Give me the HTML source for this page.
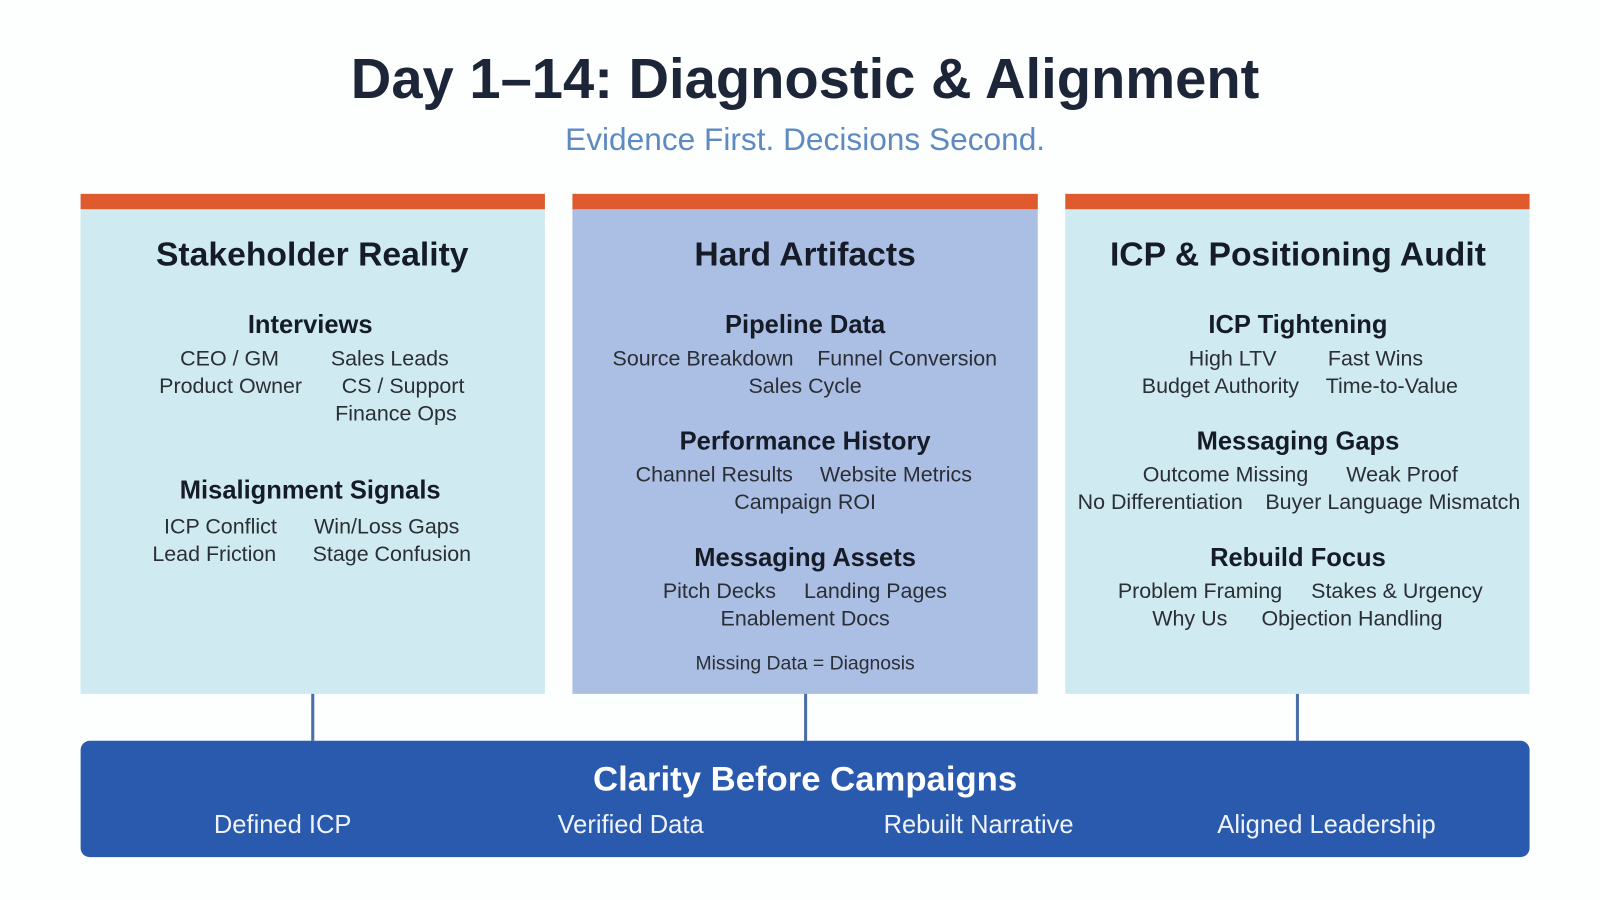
<!DOCTYPE html>
<html><head><meta charset="utf-8"><style>
html,body{margin:0;padding:0;background:#fff;width:1600px;height:900px;overflow:hidden}
#c{position:absolute;left:0;top:0;width:1568px;height:882px;transform:scale(1.0204);transform-origin:0 0;font-family:"Liberation Sans",sans-serif;background:#fdfefe}
.t{position:absolute;transform:translate(-50%,-50%);white-space:nowrap}
.h{font-weight:bold;font-size:33px;color:#151c28}
.s{font-weight:bold;font-size:25px;color:#151c28}
.i{font-size:21px;color:#2a2f36}
.b{position:absolute}
.w{color:#eef3fb;font-size:25px}
</style></head><body><div id="c">
<div class="t" style="left:789px;top:77px;font-size:55px;font-weight:bold;color:#1c2638">Day 1–14: Diagnostic &amp; Alignment</div>
<div class="t" style="left:789px;top:137px;font-size:31px;color:#5f8ac0">Evidence First. Decisions Second.</div>

<div class="b" style="left:79px;top:190px;width:455px;height:490px;background:#cfeaf0"></div>
<div class="b" style="left:561px;top:190px;width:456px;height:490px;background:#abbee3"></div>
<div class="b" style="left:1044px;top:190px;width:455px;height:490px;background:#cfeaf0"></div>
<div class="b" style="left:79px;top:190px;width:455px;height:15px;background:#df5a2c"></div>
<div class="b" style="left:561px;top:190px;width:456px;height:15px;background:#df5a2c"></div>
<div class="b" style="left:1044px;top:190px;width:455px;height:15px;background:#df5a2c"></div>

<div class="b" style="left:305px;top:680px;width:3px;height:46px;background:#4a6fa8"></div>
<div class="b" style="left:788px;top:680px;width:3px;height:46px;background:#4a6fa8"></div>
<div class="b" style="left:1270px;top:680px;width:3px;height:46px;background:#4a6fa8"></div>

<div class="b" style="left:79px;top:726px;width:1420px;height:114px;background:#2a5aad;border-radius:9px"></div>

<div class="t h" style="left:306px;top:249px">Stakeholder Reality</div>
<div class="t s" style="left:304px;top:319px">Interviews</div>
<div class="t i" style="left:225px;top:352px">CEO / GM</div>
<div class="t i" style="left:382px;top:352px">Sales Leads</div>
<div class="t i" style="left:226px;top:379px">Product Owner</div>
<div class="t i" style="left:395px;top:379px">CS / Support</div>
<div class="t i" style="left:388px;top:406px">Finance Ops</div>
<div class="t s" style="left:304px;top:481px">Misalignment Signals</div>
<div class="t i" style="left:216px;top:517px">ICP Conflict</div>
<div class="t i" style="left:379px;top:517px">Win/Loss Gaps</div>
<div class="t i" style="left:210px;top:544px">Lead Friction</div>
<div class="t i" style="left:384px;top:544px">Stage Confusion</div>

<div class="t h" style="left:789px;top:249px">Hard Artifacts</div>
<div class="t s" style="left:789px;top:319px">Pipeline Data</div>
<div class="t i" style="left:689px;top:352px">Source Breakdown</div>
<div class="t i" style="left:889px;top:352px">Funnel Conversion</div>
<div class="t i" style="left:789px;top:379px">Sales Cycle</div>
<div class="t s" style="left:789px;top:433px">Performance History</div>
<div class="t i" style="left:700px;top:466px">Channel Results</div>
<div class="t i" style="left:878px;top:466px">Website Metrics</div>
<div class="t i" style="left:789px;top:493px">Campaign ROI</div>
<div class="t s" style="left:789px;top:547px">Messaging Assets</div>
<div class="t i" style="left:705px;top:580px">Pitch Decks</div>
<div class="t i" style="left:858px;top:580px">Landing Pages</div>
<div class="t i" style="left:789px;top:607px">Enablement Docs</div>
<div class="t i" style="left:789px;top:651px;font-size:19px">Missing Data = Diagnosis</div>

<div class="t h" style="left:1272px;top:249px">ICP &amp; Positioning Audit</div>
<div class="t s" style="left:1272px;top:319px">ICP Tightening</div>
<div class="t i" style="left:1208px;top:352px">High LTV</div>
<div class="t i" style="left:1348px;top:352px">Fast Wins</div>
<div class="t i" style="left:1196px;top:379px">Budget Authority</div>
<div class="t i" style="left:1364px;top:379px">Time-to-Value</div>
<div class="t s" style="left:1272px;top:433px">Messaging Gaps</div>
<div class="t i" style="left:1201px;top:466px">Outcome Missing</div>
<div class="t i" style="left:1374px;top:466px">Weak Proof</div>
<div class="t i" style="left:1137px;top:493px">No Differentiation</div>
<div class="t i" style="left:1365px;top:493px">Buyer Language Mismatch</div>
<div class="t s" style="left:1272px;top:547px">Rebuild Focus</div>
<div class="t i" style="left:1176px;top:580px">Problem Framing</div>
<div class="t i" style="left:1369px;top:580px">Stakes &amp; Urgency</div>
<div class="t i" style="left:1166px;top:607px">Why Us</div>
<div class="t i" style="left:1325px;top:607px">Objection Handling</div>

<div class="t" style="left:789px;top:764px;font-size:34px;font-weight:bold;color:#fff">Clarity Before Campaigns</div>
<div class="t w" style="left:277px;top:809px">Defined ICP</div>
<div class="t w" style="left:618px;top:809px">Verified Data</div>
<div class="t w" style="left:959px;top:809px">Rebuilt Narrative</div>
<div class="t w" style="left:1300px;top:809px">Aligned Leadership</div>
</div></body></html>
